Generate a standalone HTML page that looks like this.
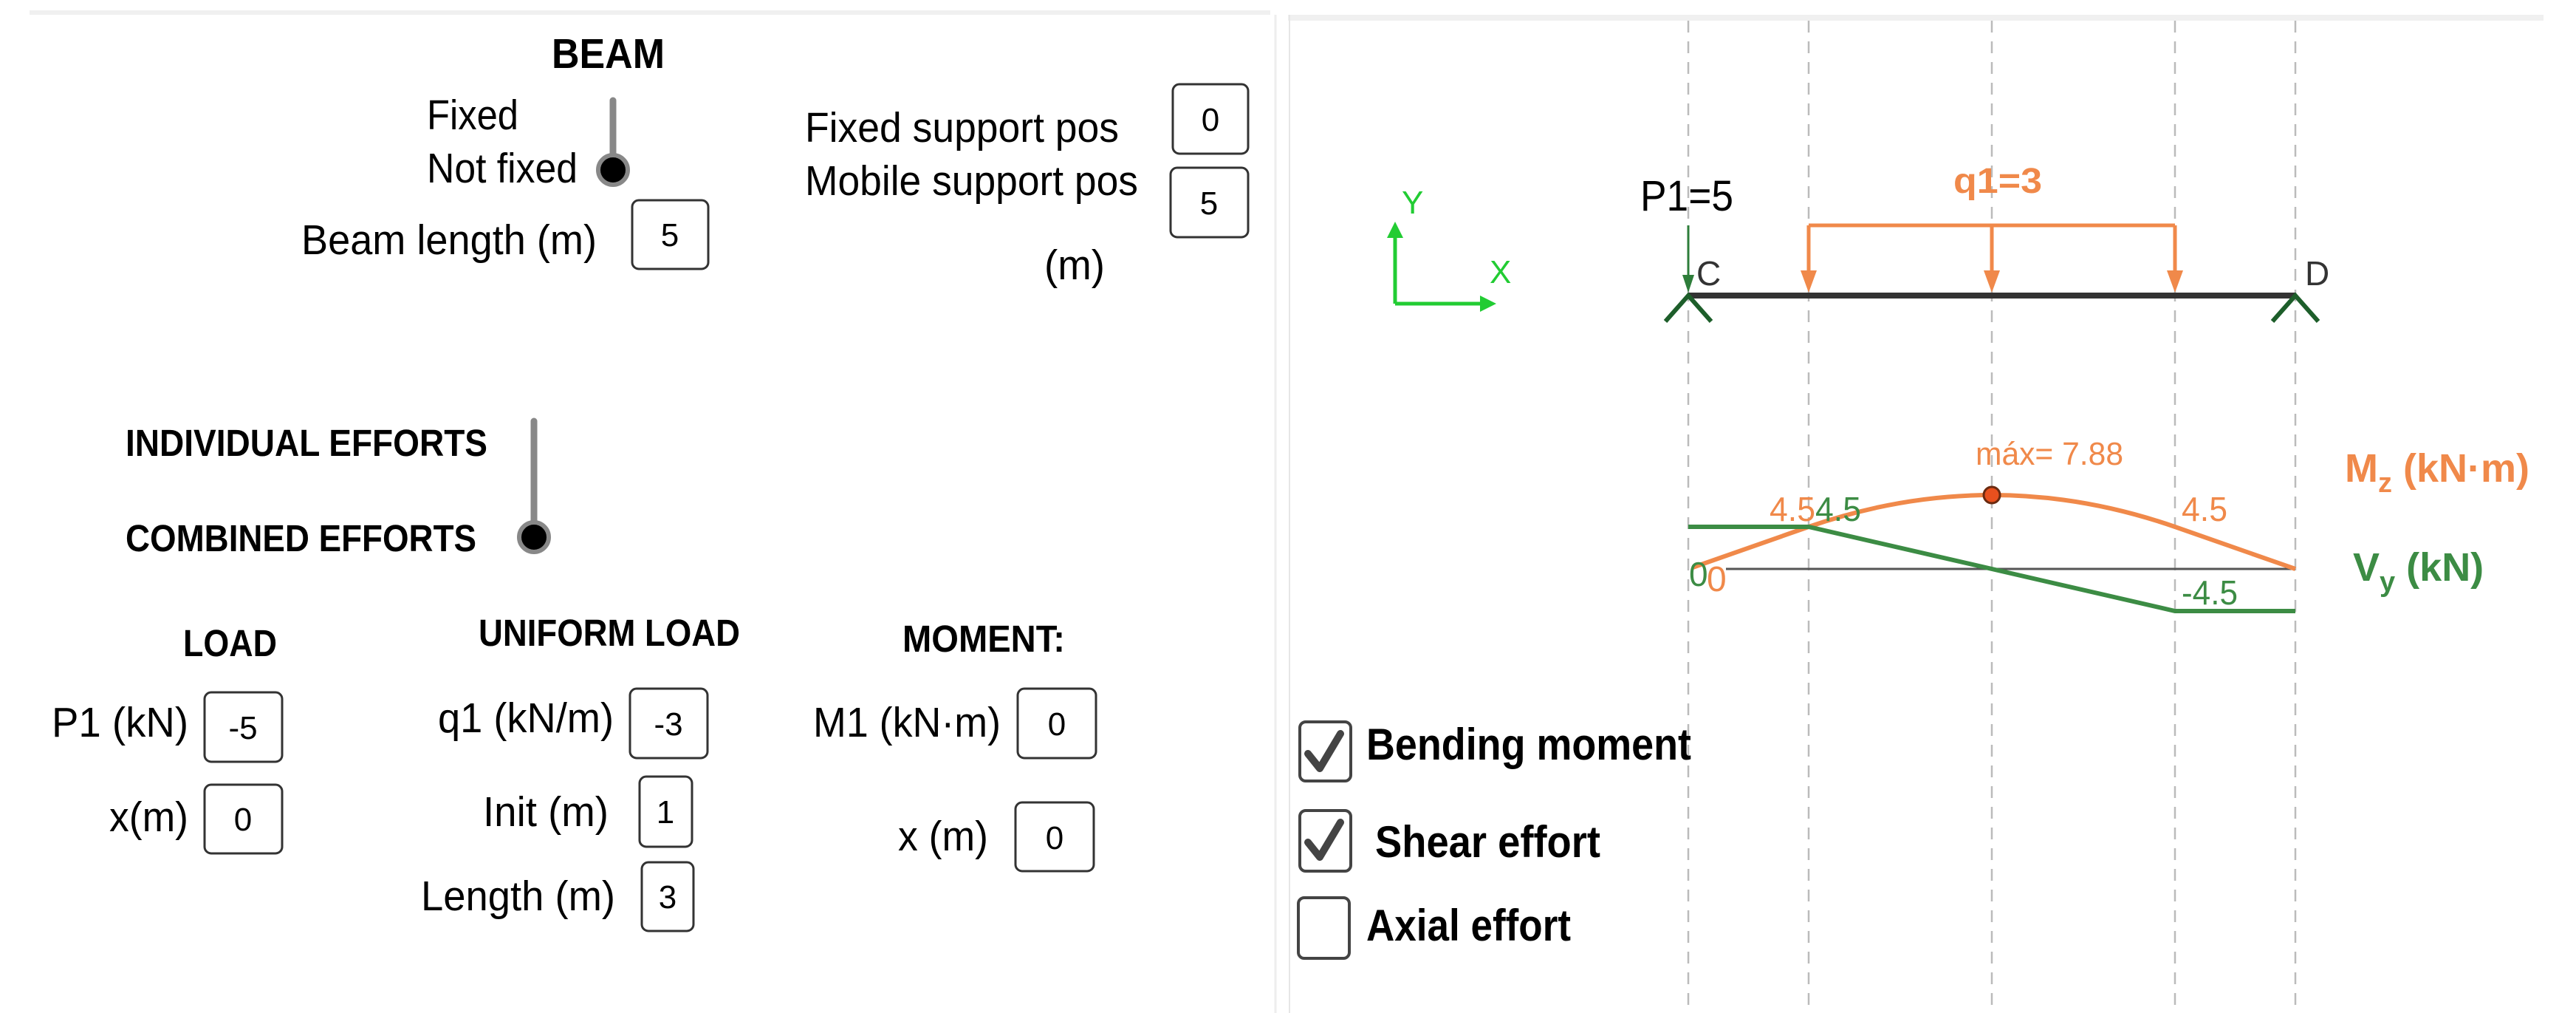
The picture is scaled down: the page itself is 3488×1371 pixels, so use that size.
<!DOCTYPE html>
<html><head><meta charset="utf-8"><style>
html,body{margin:0;padding:0;background:#fff;}
svg{display:block;}
text{font-family:"Liberation Sans",Arial,sans-serif;}
.b{font-weight:bold;}
</style></head><body>
<svg width="3488" height="1371" viewBox="0 0 3488 1371" xmlns="http://www.w3.org/2000/svg">
<rect width="3488" height="1371" fill="#fff"/>
<rect x="40" y="14" width="1680" height="6" fill="#f0f0f0"/>
<rect x="1744" y="20" width="1700" height="8" fill="#f0f0f0"/>
<line x1="1727" y1="20" x2="1727" y2="1371" stroke="#eee" stroke-width="3"/>
<line x1="1746" y1="20" x2="1746" y2="1371" stroke="#e6e6e6" stroke-width="2"/>

<!-- LEFT PANEL -->
<text class="b" x="747" y="92" font-size="57" textLength="153" lengthAdjust="spacingAndGlyphs">BEAM</text>
<text x="578" y="175" font-size="57" textLength="124" lengthAdjust="spacingAndGlyphs">Fixed</text>
<text x="578" y="247" font-size="57" textLength="204" lengthAdjust="spacingAndGlyphs">Not fixed</text>
<line x1="830" y1="136" x2="830" y2="230" stroke="#888" stroke-width="9" stroke-linecap="round"/>
<circle cx="830" cy="230" r="20" fill="#000" stroke="#888" stroke-width="6"/>
<text x="408" y="344" font-size="57" textLength="400" lengthAdjust="spacingAndGlyphs">Beam length (m)</text>
<rect x="856" y="271" width="103" height="93" rx="9" fill="#fff" stroke="#333" stroke-width="3"/>
<text x="907" y="333" font-size="44" text-anchor="middle">5</text>

<text x="1090" y="192" font-size="57" textLength="425" lengthAdjust="spacingAndGlyphs">Fixed support pos</text>
<rect x="1588" y="114" width="102" height="94" rx="9" fill="#fff" stroke="#333" stroke-width="3"/>
<text x="1639" y="177" font-size="44" text-anchor="middle">0</text>
<text x="1090" y="264" font-size="57" textLength="451" lengthAdjust="spacingAndGlyphs">Mobile support pos</text>
<rect x="1585" y="227" width="105" height="94" rx="9" fill="#fff" stroke="#333" stroke-width="3"/>
<text x="1637" y="290" font-size="44" text-anchor="middle">5</text>
<text x="1414" y="378" font-size="57" textLength="82" lengthAdjust="spacingAndGlyphs">(m)</text>

<text class="b" x="170" y="617" font-size="51" textLength="490" lengthAdjust="spacingAndGlyphs">INDIVIDUAL EFFORTS</text>
<line x1="723" y1="570" x2="723" y2="727" stroke="#888" stroke-width="9" stroke-linecap="round"/>
<circle cx="723" cy="727" r="20" fill="#000" stroke="#888" stroke-width="6"/>
<text class="b" x="170" y="746" font-size="51" textLength="475" lengthAdjust="spacingAndGlyphs">COMBINED EFFORTS</text>

<text class="b" x="248" y="888" font-size="51" textLength="127" lengthAdjust="spacingAndGlyphs">LOAD</text>
<text class="b" x="648" y="874" font-size="51" textLength="354" lengthAdjust="spacingAndGlyphs">UNIFORM LOAD</text>
<text class="b" x="1222" y="882" font-size="51" textLength="220" lengthAdjust="spacingAndGlyphs">MOMENT:</text>

<text x="70" y="997" font-size="57" textLength="185" lengthAdjust="spacingAndGlyphs">P1 (kN)</text>
<rect x="277" y="937" width="105" height="94" rx="9" fill="#fff" stroke="#333" stroke-width="3"/>
<text x="329" y="1000" font-size="44" text-anchor="middle">-5</text>
<text x="148" y="1125" font-size="57" textLength="107" lengthAdjust="spacingAndGlyphs">x(m)</text>
<rect x="277" y="1062" width="105" height="93" rx="9" fill="#fff" stroke="#333" stroke-width="3"/>
<text x="329" y="1124" font-size="44" text-anchor="middle">0</text>

<text x="593" y="991" font-size="57" textLength="238" lengthAdjust="spacingAndGlyphs">q1 (kN/m)</text>
<rect x="853" y="932" width="105" height="94" rx="9" fill="#fff" stroke="#333" stroke-width="3"/>
<text x="905" y="995" font-size="44" text-anchor="middle">-3</text>
<text x="654" y="1118" font-size="57" textLength="170" lengthAdjust="spacingAndGlyphs">Init (m)</text>
<rect x="866" y="1051" width="71" height="95" rx="9" fill="#fff" stroke="#333" stroke-width="3"/>
<text x="901" y="1114" font-size="44" text-anchor="middle">1</text>
<text x="570" y="1232" font-size="57" textLength="263" lengthAdjust="spacingAndGlyphs">Length (m)</text>
<rect x="869" y="1167" width="70" height="93" rx="9" fill="#fff" stroke="#333" stroke-width="3"/>
<text x="904" y="1229" font-size="44" text-anchor="middle">3</text>

<text x="1101" y="997" font-size="57" textLength="254" lengthAdjust="spacingAndGlyphs">M1 (kN·m)</text>
<rect x="1378" y="932" width="106" height="94" rx="9" fill="#fff" stroke="#333" stroke-width="3"/>
<text x="1431" y="995" font-size="44" text-anchor="middle">0</text>
<text x="1216" y="1151" font-size="57" textLength="122" lengthAdjust="spacingAndGlyphs">x (m)</text>
<rect x="1375" y="1086" width="106" height="93" rx="9" fill="#fff" stroke="#333" stroke-width="3"/>
<text x="1428" y="1149" font-size="44" text-anchor="middle">0</text>

<!-- RIGHT PANEL -->
<g stroke="#bbb" stroke-width="2.5" stroke-dasharray="16,12">
<line x1="2286" y1="28" x2="2286" y2="1371"/>
<line x1="2449" y1="28" x2="2449" y2="1371"/>
<line x1="2697" y1="28" x2="2697" y2="1371"/>
<line x1="2945" y1="28" x2="2945" y2="1371"/>
<line x1="3108" y1="28" x2="3108" y2="1371"/>
</g>

<g stroke="#22cc33" stroke-width="5" fill="none">
<line x1="1889" y1="411" x2="1889" y2="318"/>
<line x1="1889" y1="411" x2="2010" y2="411"/>
</g>
<polygon points="1889,300 1878,322 1900,322" fill="#22cc33"/>
<polygon points="2026,411 2004,400 2004,422" fill="#22cc33"/>
<text x="1898" y="289" font-size="44" fill="#22cc33">Y</text>
<text x="2017" y="383" font-size="44" fill="#22cc33">X</text>

<line x1="2286" y1="400" x2="3108" y2="400" stroke="#333" stroke-width="8"/>
<polyline points="2255,435 2286,400 2317,435" fill="none" stroke="#1d5e2a" stroke-width="6"/>
<polyline points="3077,435 3108,400 3139,435" fill="none" stroke="#1d5e2a" stroke-width="6"/>
<text x="2221" y="285" font-size="58" textLength="126" lengthAdjust="spacingAndGlyphs">P1=5</text>
<line x1="2286" y1="305" x2="2286" y2="375" stroke="#2e7d3a" stroke-width="3"/>
<polygon points="2286,396 2278,372 2294,372" fill="#2e7d3a"/>
<text x="2297" y="386" font-size="46" fill="#333">C</text>
<text x="3121" y="386" font-size="46" fill="#333">D</text>

<text class="b" x="2645" y="261" font-size="48" fill="#f0894a" textLength="120" lengthAdjust="spacingAndGlyphs">q1=3</text>
<g stroke="#f0894a" stroke-width="5" fill="none">
<line x1="2449" y1="305" x2="2945" y2="305"/>
<line x1="2449" y1="305" x2="2449" y2="372"/>
<line x1="2697" y1="305" x2="2697" y2="372"/>
<line x1="2945" y1="305" x2="2945" y2="372"/>
</g>
<g fill="#f0894a">
<polygon points="2449,396 2438,366 2460,366"/>
<polygon points="2697,396 2686,366 2708,366"/>
<polygon points="2945,396 2934,366 2956,366"/>
</g>

<line x1="2337" y1="770" x2="3108" y2="770" stroke="#555" stroke-width="3"/>
<path d="M2292,768 L2449,713 Q2697,627 2945,713 L3108,770" fill="none" stroke="#f0894a" stroke-width="6"/>
<polyline points="2286,713 2449,713 2945,827 3108,827" fill="none" stroke="#3c8c44" stroke-width="6"/>
<circle cx="2697" cy="670" r="11" fill="#e8501e" stroke="#6a2a10" stroke-width="3"/>
<text x="2675" y="629" font-size="44" fill="#f0894a" textLength="200" lengthAdjust="spacingAndGlyphs">máx= 7.88</text>
<text x="2396" y="705" font-size="46" fill="#f0894a" textLength="62" lengthAdjust="spacingAndGlyphs">4.5</text>
<text x="2458" y="705" font-size="46" fill="#3c8c44" textLength="62" lengthAdjust="spacingAndGlyphs">4.5</text>
<text x="2954" y="705" font-size="46" fill="#f0894a" textLength="62" lengthAdjust="spacingAndGlyphs">4.5</text>
<text x="2287" y="793" font-size="46" fill="#3c8c44">0</text>
<text x="2311" y="800" font-size="48" fill="#f0894a">0</text>
<text x="2954" y="818" font-size="46" fill="#3c8c44" textLength="76" lengthAdjust="spacingAndGlyphs">-4.5</text>

<text class="b" x="3175" y="652" font-size="54" fill="#f0894a">M<tspan font-size="38" dy="14">z</tspan><tspan dy="-14"> (kN·m)</tspan></text>
<text class="b" x="3186" y="786" font-size="54" fill="#3c8c44">V<tspan font-size="38" dy="14">y</tspan><tspan dy="-14"> (kN)</tspan></text>

<rect x="1760" y="977" width="69" height="80" rx="8" fill="#fff" stroke="#444" stroke-width="4"/>
<polyline points="1771,1020 1787,1040 1815,993" fill="none" stroke="#444" stroke-width="10" stroke-linecap="round" stroke-linejoin="round"/>
<text class="b" x="1850" y="1028" font-size="60" textLength="440" lengthAdjust="spacingAndGlyphs">Bending moment</text>
<rect x="1760" y="1097" width="69" height="82" rx="8" fill="#fff" stroke="#444" stroke-width="4"/>
<polyline points="1771,1140 1787,1160 1815,1113" fill="none" stroke="#444" stroke-width="10" stroke-linecap="round" stroke-linejoin="round"/>
<text class="b" x="1862" y="1160" font-size="60" textLength="305" lengthAdjust="spacingAndGlyphs">Shear effort</text>
<rect x="1758" y="1215" width="69" height="82" rx="8" fill="#fff" stroke="#444" stroke-width="4"/>
<text class="b" x="1850" y="1273" font-size="60" textLength="277" lengthAdjust="spacingAndGlyphs">Axial effort</text>
</svg>
</body></html>
